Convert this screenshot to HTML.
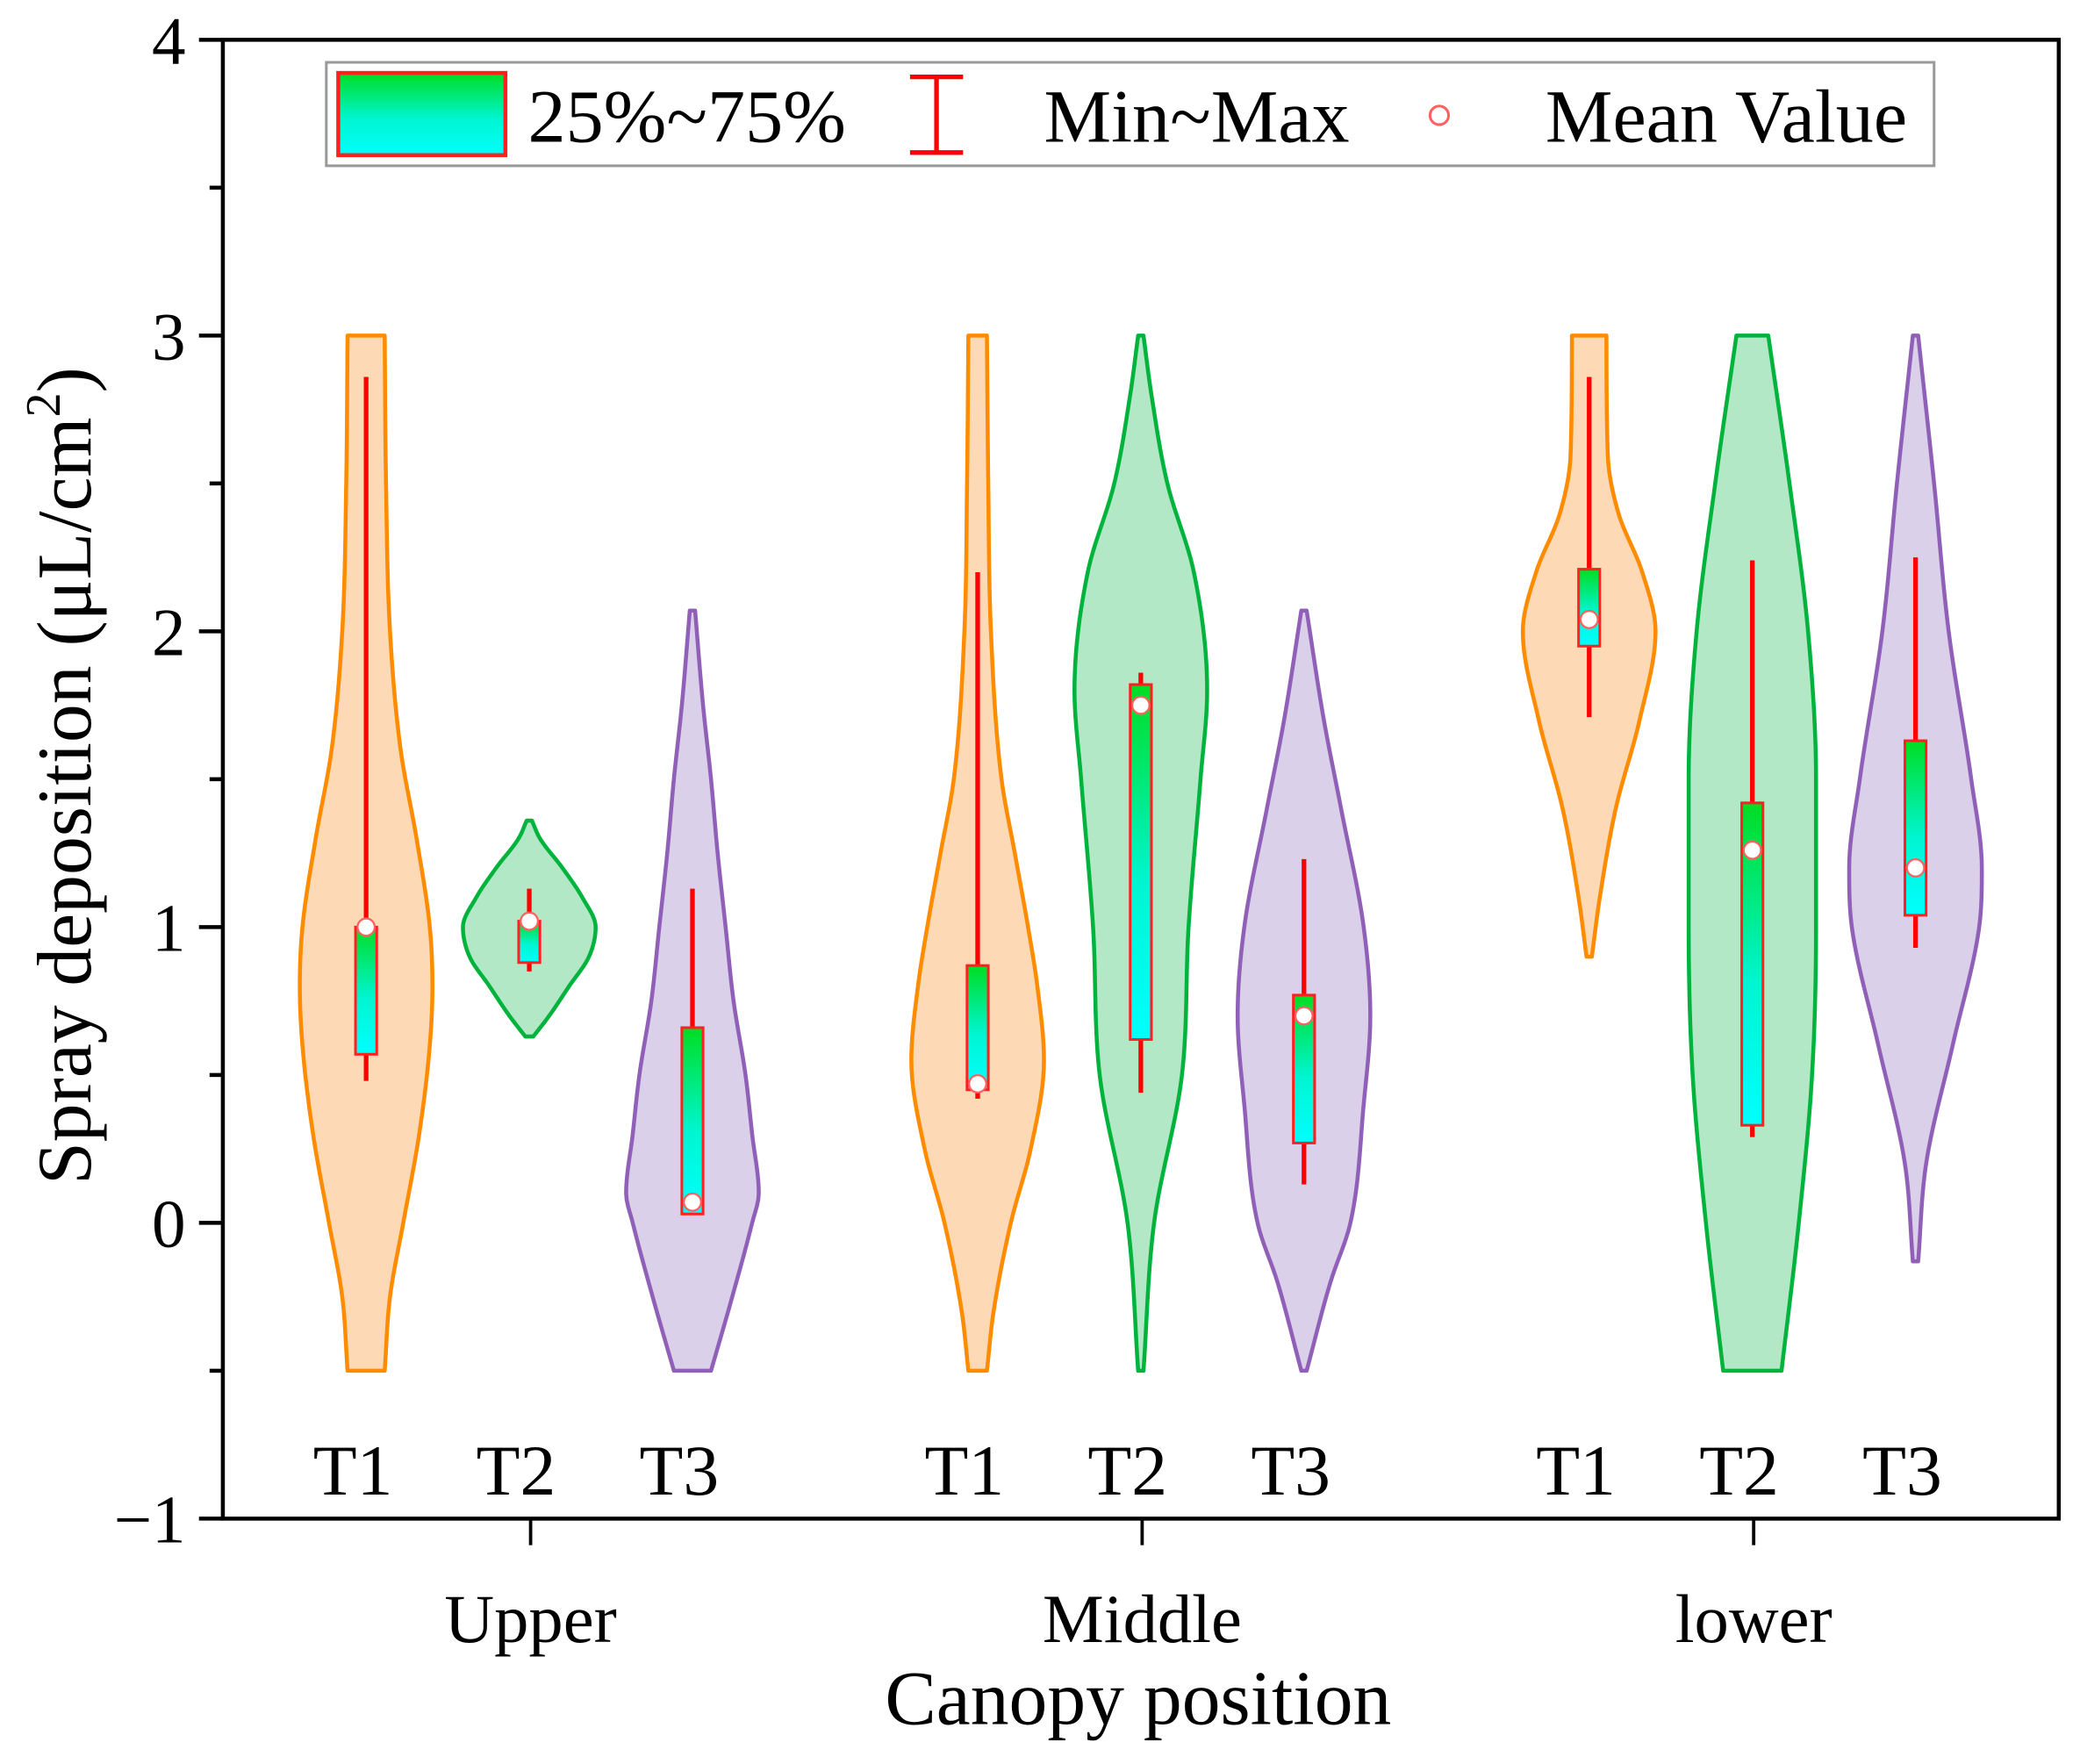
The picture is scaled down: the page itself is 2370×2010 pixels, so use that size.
<!DOCTYPE html>
<html><head><meta charset="utf-8"><style>
html,body{margin:0;padding:0;background:#fff;}
svg{display:block;}
text{font-family:"Liberation Serif",serif;fill:#000;}
</style></head><body>
<svg id="chart" width="2370" height="2010" viewBox="0 0 1568 1330" preserveAspectRatio="none" xmlns="http://www.w3.org/2000/svg">
<defs>
<linearGradient id="boxgrad" x1="0" y1="0" x2="0" y2="1">
<stop offset="0" stop-color="#00dd22"/><stop offset="0.55" stop-color="#00f5d0"/><stop offset="1" stop-color="#00ffff"/>
</linearGradient>
</defs>
<g id="plot"></g>
<g id="axes"></g>
<g>
<rect x="246" y="47" width="1212" height="78" fill="#fff" stroke="#999" stroke-width="2"/>
<rect x="255" y="55" width="126" height="62" fill="url(#boxgrad)" stroke="#ff2020" stroke-width="3"/>
<text x="398" y="107" font-size="57">25%~75%</text>
<g stroke="#ff0000" stroke-width="3.5">
<line x1="706" y1="58" x2="706" y2="115"/><line x1="686" y1="58" x2="726" y2="58"/><line x1="686" y1="115" x2="726" y2="115"/>
</g>
<text x="787" y="107" font-size="57">Min~Max</text>
<circle cx="1085" cy="87" r="7" fill="#fff" stroke="#ff6060" stroke-width="2"/>
<text x="1165" y="107" font-size="57">Mean Value</text>
</g>
<text transform="translate(68,585) rotate(-90)" text-anchor="middle" font-size="58">Spray deposition (μL/cm<tspan font-size="37" dy="-23">2</tspan><tspan dy="23">)</tspan></text>
<text x="858" y="1300" text-anchor="middle" font-size="58">Canopy position</text>
</svg>
<script>
// ---- data ----
const groups = ["Upper", "Middle", "lower"];
const treatments = ["T1", "T2", "T3"];
const yTicks = [-1, 0, 1, 2, 3, 4];
const yTickLabels = ["\u22121", "0", "1", "2", "3", "4"];
// violin profiles: values and half-widths (relative density 0..1)
const profV = [
 [-0.5,-0.25,0,0.3,0.6,0.8,1.0,1.3,1.6,2.0,2.5,3.0],
 [0.63,0.7,0.8,0.9,1.0,1.1,1.2,1.3,1.36],
 [-0.5,-0.25,0,0.1,0.3,0.5,0.75,1.0,1.25,1.5,1.75,2.07],
 [-0.5,-0.3,0,0.25,0.55,0.8,1.0,1.25,1.5,2.0,2.5,3.0],
 [-0.5,0,0.5,1.0,1.5,1.8,2.2,2.5,2.8,3.0],
 [-0.5,-0.2,0,0.4,0.7,1.0,1.4,1.7,2.07],
 [0.9,1.1,1.4,1.7,2.0,2.2,2.4,2.6,3.0],
 [-0.5,0,0.5,1.0,1.5,2.0,2.5,3.0],
 [-0.13,0.2,0.6,1.0,1.2,1.5,2.0,2.5,3.0]
];
const profW = [
 [0.28,0.36,0.56,0.8,0.96,1.0,0.96,0.76,0.52,0.36,0.3,0.28],
 [0.06,0.3,0.6,0.9,1.0,0.8,0.5,0.16,0.04],
 [0.28,0.6,0.9,1.0,0.9,0.8,0.62,0.5,0.38,0.28,0.16,0.04],
 [0.14,0.24,0.5,0.8,1.0,0.9,0.76,0.56,0.36,0.2,0.16,0.14],
 [0.04,0.2,0.62,0.72,0.9,1.0,0.8,0.4,0.16,0.04],
 [0.04,0.4,0.7,0.9,1.0,0.9,0.56,0.3,0.04],
 [0.04,0.16,0.4,0.76,1.0,0.8,0.44,0.28,0.26],
 [0.44,0.7,0.9,0.96,0.96,0.84,0.56,0.24],
 [0.04,0.16,0.56,0.96,1.0,0.84,0.5,0.28,0.04]
];
const q1 = [0.57,0.88,0.03, 0.45,0.62,0.27, 1.95,0.33,1.04];
const q3 = [1.0,1.02,0.66, 0.87,1.82,0.77, 2.21,1.42,1.63];
const minV = [0.48,0.85,0.03, 0.42,0.44,0.13, 1.71,0.29,0.93];
const maxV = [2.86,1.13,1.13, 2.2,1.86,1.23, 2.86,2.24,2.25];
const meanV = [1.0,1.02,0.07, 0.47,1.75,0.7, 2.04,1.26,1.2];
// ---- scales ----
const X0 = 168, X1 = 1552, Y0 = 30, Y1 = 1145;
const yMin = -1, yMax = 4;
function ys(v){ return Y1 - (v - yMin) / (yMax - yMin) * (Y1 - Y0); }
const groupCenter = [400, 861, 1322], slot = 123;
function xs(g, t){ return groupCenter[g] + (t - 1) * slot - 1; }
const maxHalf = 50;
const fills = ["#fdd9b5", "#b3e8c6", "#dbd0ea"];
const strokes = ["#ff8c00", "#00b33c", "#9060b8"];
const NS = "http://www.w3.org/2000/svg";
function mk(tag, attrs, parent){ const e = document.createElementNS(NS, tag); for (const k in attrs) e.setAttribute(k, attrs[k]); parent.appendChild(e); return e; }
// monotone cubic interpolation (Fritsch-Carlson)
function monotone(xsA, ysA){
  const n = xsA.length, d = [], m = new Array(n);
  for (let i = 0; i < n - 1; i++) d.push((ysA[i+1]-ysA[i])/(xsA[i+1]-xsA[i]));
  m[0] = d[0]; m[n-1] = d[n-2];
  for (let i = 1; i < n - 1; i++) m[i] = (d[i-1]*d[i] <= 0) ? 0 : (d[i-1]+d[i])/2;
  for (let i = 0; i < n - 1; i++) {
    if (d[i] === 0) { m[i] = 0; m[i+1] = 0; continue; }
    const a = m[i]/d[i], b = m[i+1]/d[i], s = a*a + b*b;
    if (s > 9) { const t = 3/Math.sqrt(s); m[i] = t*a*d[i]; m[i+1] = t*b*d[i]; }
  }
  return function(x){
    let i = 0; while (i < n - 2 && x > xsA[i+1]) i++;
    const h = xsA[i+1]-xsA[i], t = (x - xsA[i])/h, t2 = t*t, t3 = t2*t;
    return (2*t3-3*t2+1)*ysA[i] + (t3-2*t2+t)*h*m[i] + (-2*t3+3*t2)*ysA[i+1] + (t3-t2)*h*m[i+1];
  };
}
const plot = document.getElementById("plot");
for (let g = 0; g < 3; g++) for (let t = 0; t < 3; t++) {
  const i = g * 3 + t, cx = xs(g, t);
  const V = profV[i], W = profW[i];
  const f = monotone(V, W);
  const N = 120, lo = V[0], hi = V[V.length-1];
  const right = [], left = [];
  for (let k = 0; k <= N; k++) {
    const v = lo + (hi - lo) * k / N, w = Math.max(0.02, f(v)) * maxHalf;
    right.push((cx + w).toFixed(2) + "," + ys(v).toFixed(2));
    left.push((cx - w).toFixed(2) + "," + ys(v).toFixed(2));
  }
  const d = "M" + right.join(" L") + " L" + left.reverse().join(" L") + " Z";
  const vio = mk("path", {d: d, fill: fills[t], stroke: strokes[t], "stroke-width": 3, "stroke-linejoin": "round"}, plot);
  
  
  const wh = mk("line", {x1: cx, x2: cx, y1: ys(minV[i]), y2: ys(maxV[i]), stroke: "#ff0000", "stroke-width": 3.5}, plot);
  
  
  const bx = mk("rect", {x: cx - 8, y: ys(q3[i]), width: 16, height: ys(q1[i]) - ys(q3[i]), fill: "url(#boxgrad)", stroke: "#ff2020", "stroke-width": 2}, plot);
  
  
  const mc = mk("circle", {cx: cx, cy: ys(meanV[i]), r: 6.5, fill: "#fff", stroke: "#ff6060", "stroke-width": 1.5}, plot);
  
  
  const tl = mk("text", {x: cx - 10, y: 1127, "text-anchor": "middle", "font-size": 54}, plot);
  tl.textContent = treatments[t];
  
  
}
const axes = document.getElementById("axes");
const frame = mk("rect", {x: X0, y: Y0, width: X1 - X0, height: Y1 - Y0, fill: "none", stroke: "#000", "stroke-width": 3}, axes);


yTicks.forEach((v, k) => {
  const tk = mk("line", {x1: X0 - 18, x2: X0, y1: ys(v), y2: ys(v), stroke: "#000", "stroke-width": 3}, axes);
  
  
  if (k < yTicks.length - 1) {
    const mt = mk("line", {x1: X0 - 10, x2: X0, y1: ys(v + 0.5), y2: ys(v + 0.5), stroke: "#000", "stroke-width": 3}, axes);
    
    
  }
  const lb = mk("text", {x: X0 - 28, y: ys(v) + 18, "text-anchor": "end", "font-size": 51}, axes);
  lb.textContent = yTickLabels[k];
  
  
});
groups.forEach((gname, g) => {
  const tk = mk("line", {x1: groupCenter[g], x2: groupCenter[g], y1: Y1, y2: Y1 + 20, stroke: "#000", "stroke-width": 2.5}, axes);
  
  
  const lb = mk("text", {x: groupCenter[g], y: 1238, "text-anchor": "middle", "font-size": 52}, axes);
  lb.textContent = gname;
  
  
});
</script>
</body></html>
